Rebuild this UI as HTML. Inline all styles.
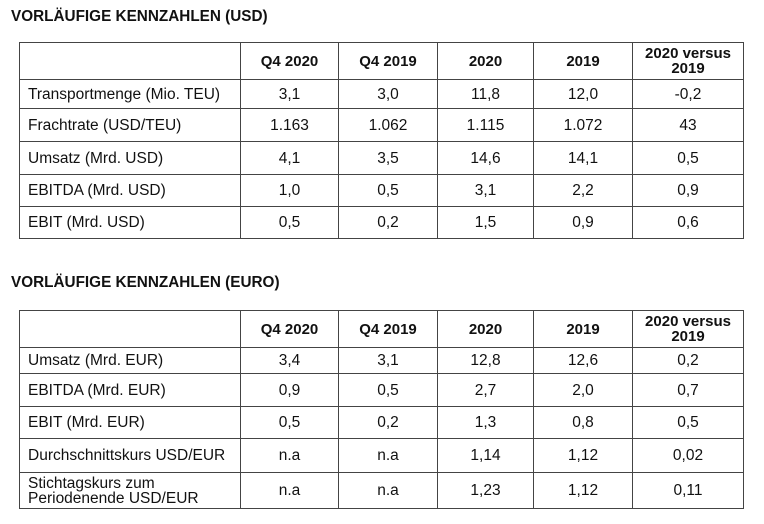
<!DOCTYPE html>
<html><head><meta charset="utf-8"><style>
body{margin:0;width:764px;height:524px;background:#fff;font-family:"Liberation Sans",Arial,sans-serif;color:#111;position:relative;overflow:hidden}
.t{position:absolute;left:11px;font-weight:bold;font-size:15.3px}
table{position:absolute;left:19px;border-collapse:collapse;font-size:15.5px;table-layout:fixed}
td{border:1px solid #444;text-align:center;padding:0;line-height:15px;white-space:nowrap}
td:first-child{text-align:left;padding-left:8px}
.h td{font-weight:bold;font-size:15px}
</style></head><body>
<div class="t" style="top:8px">VORLÄUFIGE KENNZAHLEN (USD)</div>
<table style="top:42px;width:724px">
<colgroup><col style="width:221px"><col style="width:98px"><col style="width:99px"><col style="width:96px"><col style="width:99px"><col style="width:111px"></colgroup>
<tr class="h" style="height:37px"><td></td><td>Q4 2020</td><td>Q4 2019</td><td>2020</td><td>2019</td><td>2020 versus<br>2019</td></tr>
<tr style="height:29px"><td>Transportmenge (Mio. TEU)</td><td>3,1</td><td>3,0</td><td>11,8</td><td>12,0</td><td>-0,2</td></tr>
<tr style="height:33px"><td>Frachtrate (USD/TEU)</td><td>1.163</td><td>1.062</td><td>1.115</td><td>1.072</td><td>43</td></tr>
<tr style="height:33px"><td>Umsatz (Mrd. USD)</td><td>4,1</td><td>3,5</td><td>14,6</td><td>14,1</td><td>0,5</td></tr>
<tr style="height:32px"><td>EBITDA (Mrd. USD)</td><td>1,0</td><td>0,5</td><td>3,1</td><td>2,2</td><td>0,9</td></tr>
<tr style="height:32px"><td>EBIT (Mrd. USD)</td><td>0,5</td><td>0,2</td><td>1,5</td><td>0,9</td><td>0,6</td></tr>
</table>
<div class="t" style="top:274px">VORLÄUFIGE KENNZAHLEN (EURO)</div>
<table style="top:310px;width:724px">
<colgroup><col style="width:221px"><col style="width:98px"><col style="width:99px"><col style="width:96px"><col style="width:99px"><col style="width:111px"></colgroup>
<tr class="h" style="height:37px"><td></td><td>Q4 2020</td><td>Q4 2019</td><td>2020</td><td>2019</td><td>2020 versus<br>2019</td></tr>
<tr style="height:26px"><td>Umsatz (Mrd. EUR)</td><td>3,4</td><td>3,1</td><td>12,8</td><td>12,6</td><td>0,2</td></tr>
<tr style="height:33px"><td>EBITDA (Mrd. EUR)</td><td>0,9</td><td>0,5</td><td>2,7</td><td>2,0</td><td>0,7</td></tr>
<tr style="height:32px"><td>EBIT (Mrd. EUR)</td><td>0,5</td><td>0,2</td><td>1,3</td><td>0,8</td><td>0,5</td></tr>
<tr style="height:34px"><td>Durchschnittskurs USD/EUR</td><td>n.a</td><td>n.a</td><td>1,14</td><td>1,12</td><td>0,02</td></tr>
<tr style="height:36px"><td>Stichtagskurs zum<br>Periodenende USD/EUR</td><td>n.a</td><td>n.a</td><td>1,23</td><td>1,12</td><td>0,11</td></tr>
</table>
</body></html>
